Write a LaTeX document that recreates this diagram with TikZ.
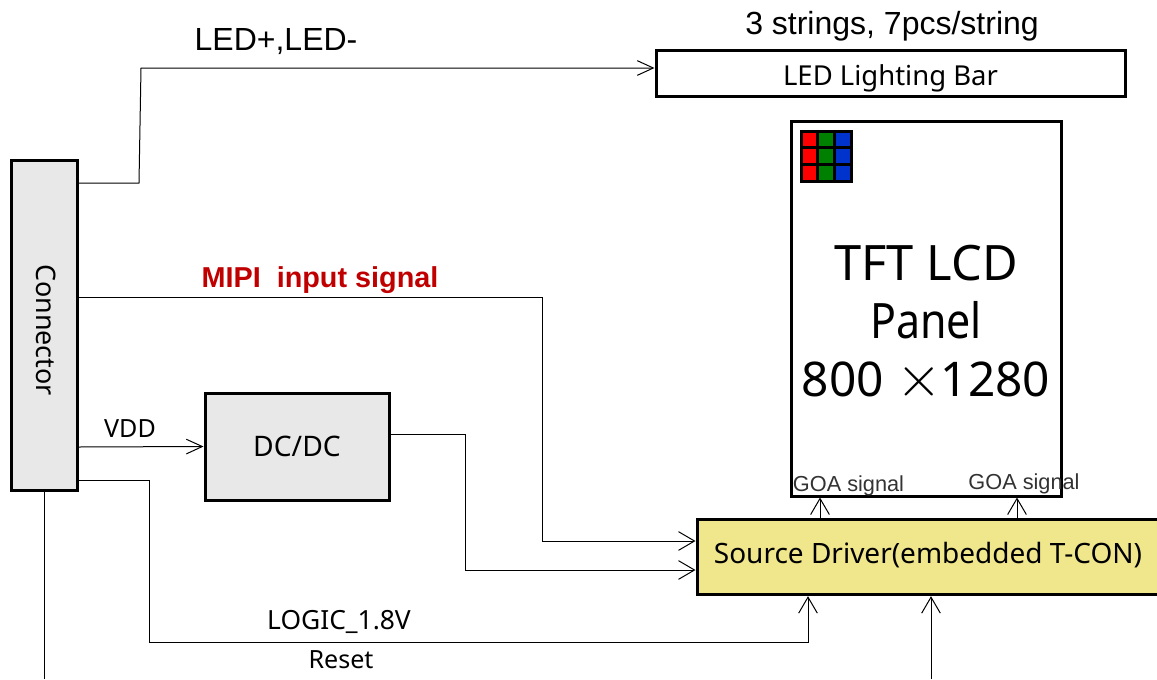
\documentclass[tikz,border=0pt]{standalone}
\usepackage{fontspec}
\usepackage{xcolor}
\setmainfont{Noto Sans}
\newfontfamily\arialfont{Liberation Sans}
\definecolor{boxgray}{HTML}{E8E8E8}
\definecolor{drvyellow}{HTML}{F0E68C}
\definecolor{mipired}{HTML}{C00000}
\definecolor{subblue}{HTML}{0033CC}
\usetikzlibrary{positioning, arrows.meta}

\begin{document}
\begin{tikzpicture}[
  x=0.75pt, y=-0.75pt,
  every node/.style={inner sep=0pt},
  blockbox/.style={draw=black, line width=2.25pt, minimum width=#1},
  ann/.style={font=\fontsize{18.8}{22}\selectfont},
  wire/.style={black, line width=0.75pt},
  arrow/.style={wire, -{Straight Barb[length=12pt,width=14pt,line width=0.75pt]}},
  thinarrow/.style={wire, -{Straight Barb[length=12pt,width=11pt,line width=0.75pt]}},
  goa/.style={font=\arialfont\fontsize{16.3}{19}\selectfont, color=black!80}
]
\useasboundingbox (0,0) rectangle (1157,679);
% blocks
\node[blockbox=49.5pt, fill=boxgray, minimum height=247.5pt] (conn) at (44,325.5) {};
\node[rotate=-90, font=\fontsize{20.2}{24}\selectfont] (connlabel) at (46,330) {Connector};
\node[blockbox=351.75pt, minimum height=34.5pt, font=\fontsize{20.6}{24}\selectfont, text height=20pt, text depth=2pt] (ledbar) at (890.5,73) {LED Lighting Bar};
\node[blockbox=202.5pt, minimum height=281.25pt] (panel) at (926,308.5) {};
\node[blockbox=138pt, fill=boxgray, minimum height=80.25pt, font=\fontsize{21.2}{24}\selectfont] (dcdc) at (297,446.5) {DC/DC};
\node[blockbox=346.5pt, fill=drvyellow, minimum height=56.5pt, font=\fontsize{21}{24}\selectfont, text height=17pt, text depth=7pt] (driver) at (928,557) {Source Driver(embedded T-CON)};
% RGB pixels
\foreach \cx/\col in {0/red, 1/green!50!black, 2/subblue} {
  \foreach \cy in {0,1,2} {
    \fill[\col] (801+\cx*16.67,131+\cy*16.67) rectangle ++(16.67,16.67);
    \draw[black, line width=2.25pt] (801+\cx*16.67,131+\cy*16.67) rectangle ++(16.67,16.67);
  }
}
\node[font=\fontsize{36.6}{43.5}\selectfont, align=center] (panellabel) at (926,321) {TFT LCD\\\scalebox{.88}[1]{Panel}\\\scalebox{.98}{800 \smash{\scalebox{1.8}{$\times$}}\hspace{-1pt}1280}};
% labels
\node[font=\arialfont\fontsize{24}{28}\selectfont] (ledcount) at (892,26) {3 strings, 7pcs/string};
\node[font=\arialfont\fontsize{24}{28}\selectfont] (ledlabel) at (276,41.5) {LED+,LED-};
\node[font=\arialfont\bfseries\fontsize{21.6}{25}\selectfont, color=mipired] (mipilabel) at (320,280) {MIPI\ \ input signal};
\node[ann] (vddlabel) at (130,429) {VDD};
\node[font=\fontsize{19.8}{23}\selectfont] (logiclabel) at (339,621.5) {LOGIC\_1.8V};
\node[ann] (resetlabel) at (341,660) {Reset};
\node[goa] (goaleft) at (848.5,486) {GOA signal};
\node[goa] (goaright) at (1024,484) {GOA signal};
% connectors
\coordinate (ledA) at (139,183);
\coordinate (ledB) at (141,68);
\draw[thinarrow] (conn.east |- ledA) -- (ledA) -- (ledB) -- (ledbar.west |- ledB);
\coordinate (mipiA) at (542,297);
\coordinate (mipiB) at (542,541);
\draw[arrow] (conn.east |- mipiA) -- (mipiA) -- (mipiB) -- (driver.west |- mipiB);
\draw[thinarrow] (conn.east |- dcdc) ++(0,0.5) -- (dcdc.west);
\coordinate (dcA) at (465,434);
\coordinate (dcB) at (465,570);
\draw[wire] (dcdc.east |- dcA) -- (dcA);
\draw[arrow] (dcA) -- (dcB) -- (driver.west |- dcB);
\coordinate (logicA) at (149,480);
\coordinate (logicB) at (149,642);
\coordinate (logicC) at (808,642);
\draw[arrow] (conn.east |- logicA) -- (logicA) -- (logicB) -- (logicC) -- (logicC |- driver.south);
\coordinate (bottomL) at (44,679);
\draw[wire] (conn.south) -- (bottomL);
\coordinate (bottomR) at (931,679);
\draw[arrow] (bottomR) -- (bottomR |- driver.south);
\coordinate (goaL) at (820,519);
\coordinate (goaR) at (1017,519);
\draw[arrow] (goaL) -- (goaL |- panel.south);
\draw[arrow] (goaR) -- (goaR |- panel.south);
\end{tikzpicture}
\end{document}
